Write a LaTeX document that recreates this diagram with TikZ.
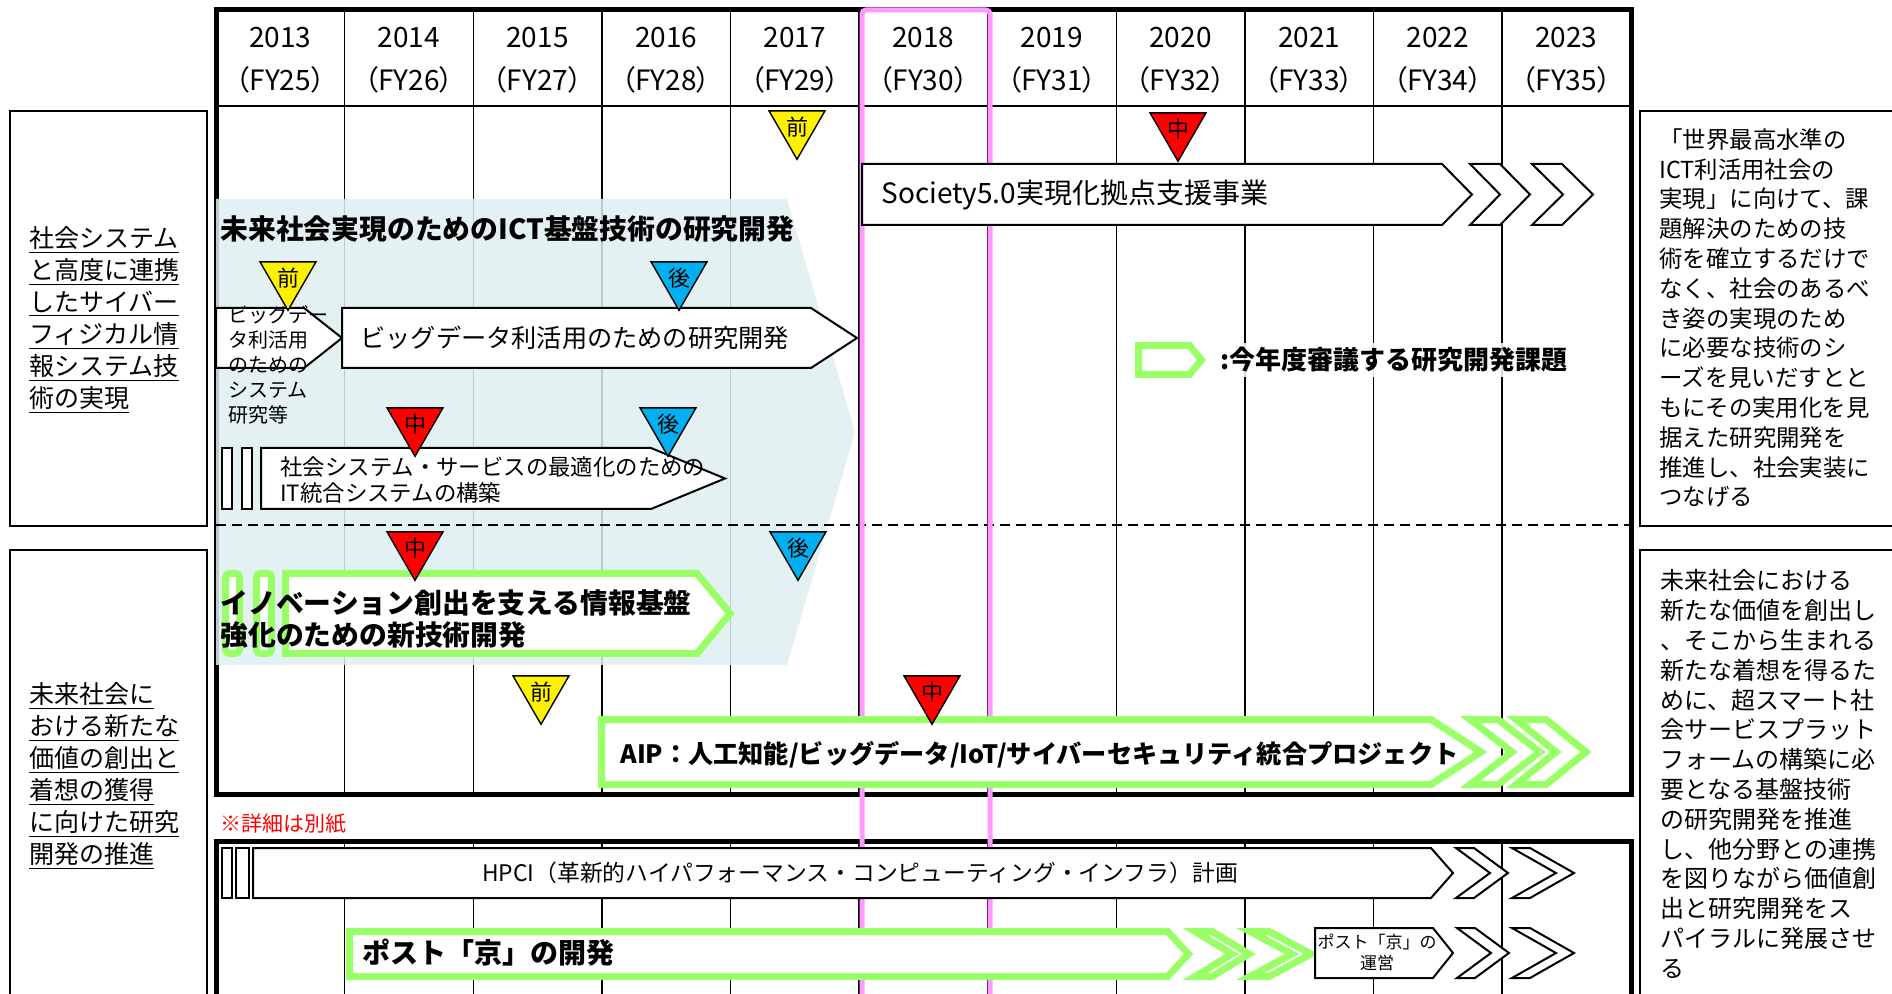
\documentclass[tikz,border=0pt]{standalone}
\usepackage{fontspec}
\setmainfont{Noto Sans CJK JP}
\newfontfamily\propfont{Noto Sans CJK JP}[RawFeature=+palt]
\usetikzlibrary{shapes.geometric}
\definecolor{grn}{RGB}{153,255,102}
\definecolor{pinkline}{RGB}{255,153,255}
\definecolor{ictback}{RGB}{222,238,240}
\definecolor{cyanblue}{RGB}{0,176,240}
% pentagon arrow: [style]{x left}{y top}{x tip}{y bottom}{head depth}
\newcommand{\pentbox}[6][]{\draw[#1] (#2,#3) -- ({#4-#6},#3) -- (#4,{(#3+#5)/2}) -- ({#4-#6},#5) -- (#2,#5) -- cycle;}
% chevron: [style]{x left}{y top}{y bottom}{width}{depth}
\newcommand{\chevshape}[6][]{\draw[#1] (#2,#3) -- ({#2+#5},#3) -- ({#2+#5+#6},{(#3+#4)/2}) -- ({#2+#5},#4) -- (#2,#4) -- ({#2+#6},{(#3+#4)/2}) -- cycle;}
\newcommand{\fs}[2]{\fontsize{#1}{#2}\selectfont}
\begin{document}
\begin{tikzpicture}[x=0.5pt,y=-0.5pt,
    box/.style={draw=black,fill=white,line width=1pt,line join=miter},
    gbox/.style={draw=grn,fill=white,line width=3.5pt,line join=miter},
    gridline/.style={line width=0.7pt},
    frame/.style={line width=2.5pt},
    tri/.style={regular polygon,regular polygon sides=3,regular polygon rotate=180,draw,line width=0.7pt,inner sep=0pt,minimum size=32.3pt,font=\fs{11}{11}},
    zenki/.style={tri,fill=yellow},
    chuki/.style={tri,fill=red},
    kouki/.style={tri,fill=cyanblue},
    txt/.style={inner sep=0pt,anchor=west,align=left}]
    \useasboundingbox (0,0) rectangle (1892,994);
    \clip (0,0) rectangle (1892,994);
    % year grid
    \foreach \i in {1,...,10}{
        \draw[gridline] ({216+128.6*\i},10) -- ({216+128.6*\i},794);
        \draw[gridline] ({216+128.6*\i},841) -- ({216+128.6*\i},1000);
    }
    \draw[line width=1.3pt] (216,106) -- (1631,106);
    \draw[frame] (216,794) -- (216,10) -- (1631,10) -- (1631,794) -- cycle;
    \draw[frame] (216,1000) -- (216,841) -- (1631,841) -- (1631,1000);
    \foreach \yr [count=\i from 0] in {2013,...,2023}{
        \pgfmathtruncatemacro{\fy}{\yr-1988}
        \node[font=\fs{14}{14}] (yr\i) at ({280.3+128.6*\i},38) {\yr};
        \node[font=\propfont\fs{14}{14}] (fy\i) at ({280.3+128.6*\i},80) {（FY\fy）};
    }
    % shaded programme
    \fill[ictback,fill opacity=0.85] (216,199) -- (787,199) -- (855,432) -- (787,665) -- (216,665) -- cycle;
    \draw[line width=1pt,dash pattern=on 5pt off 3pt] (216,525) -- (1631,525);
    \draw[pinkline,line width=2.5pt,rounded corners=2pt] (862,1010) -- (862,10) -- (990,10) -- (990,1010);
    % side boxes
    \draw[line width=1.2pt] (10,111) rectangle (207,526);
    \draw[line width=1.2pt] (10,550) rectangle (207,1010);
    \draw[line width=1.2pt] (1640,111) rectangle (1900,526);
    \draw[line width=1.2pt] (1640,550) rectangle (1900,1010);
    \node[txt,font=\fs{12.5}{16}] (goal1) at (29,320) {\underline{社会システム}\\\underline{と高度に連携}\\\underline{したサイバー}\\\underline{フィジカル情}\\\underline{報システム技}\\\underline{術の実現}};
    \node[txt,font=\fs{12.5}{16}] (goal2) at (29,776) {\underline{未来社会に}\\\underline{おける新たな}\\\underline{価値の創出と}\\\underline{着想の獲得}\\\underline{に向けた研究}\\\underline{開発の推進}};
    \node[txt,font=\fs{11.7}{14.9}] (aim1) at (1659,318) {「世界最高水準の\\ICT利活用社会の\\実現」に向けて、課\\題解決のための技\\術を確立するだけで\\なく、社会のあるべ\\き姿の実現のため\\に必要な技術のシ\\ーズを見いだすとと\\もにその実用化を見\\据えた研究開発を\\推進し、社会実装に\\つなげる};
    \node[txt,font=\fs{12}{14.9}] (aim2) at (1660,774) {未来社会における\\新たな価値を創出し\\、そこから生まれる\\新たな着想を得るた\\めに、超スマート社\\会サービスプラット\\フォームの構築に必\\要となる基盤技術\\の研究開発を推進\\し、他分野との連携\\を図りながら価値創\\出と研究開発をス\\パイラルに発展させ\\る};
    % Society5.0
    \pentbox[box]{862}{164}{1472}{225}{30}
    \chevshape[box]{1470}{164}{225}{30}{30}
    \chevshape[box]{1532}{164}{225}{30}{31}
    \node[txt,font=\fs{14}{14}] (soc) at (881,195) {Society5.0実現化拠点支援事業};
    % ICT programme
    \node[txt,font=\bfseries\fs{13.9}{13.9}] (ict) at (220,229) {未来社会実現のためのICT基盤技術の研究開発};
    \pentbox[box]{216}{308}{342}{368}{38}
    \pentbox[box]{342}{308}{857}{368}{46}
    \node[txt,font=\fs{10}{12.5}] (bdsys) at (228,365) {ビッグデー\\タ利活用\\のための\\システム\\研究等};
    \node[txt,font=\fs{12.6}{12.6}] (bd) at (360,338) {ビッグデータ利活用のための研究開発};
    \draw[box] (222,448) rectangle (232,509);
    \draw[box] (242,448) rectangle (252,509);
    \pentbox[box]{261}{448}{725}{509}{74}
    \node[txt,font=\fs{11.2}{13}] (itsys) at (280,480) {社会システム・サービスの最適化のための\\IT統合システムの構築};
    % innovation
    \draw[gbox,rounded corners=2pt] (225.5,573.5) rectangle (239.5,653.5);
    \draw[gbox,rounded corners=2pt] (256.5,573.5) rectangle (271.5,653.5);
    \pentbox[gbox]{285.5}{573.5}{730}{653.5}{33}
    \node[txt,font=\bfseries\fs{13.9}{16}] (inno) at (220,619) {イノベーション創出を支える情報基盤\\強化のための新技術開発};
    % AIP
    \pentbox[gbox]{601.5}{719.5}{1481}{784.5}{50}
    \chevshape[gbox]{1470}{719.5}{784.5}{28}{42}
    \chevshape[gbox]{1516}{719.5}{784.5}{30}{40}
    \node[txt,font=\bfseries\fs{12.6}{12.6}] (aip) at (620,755) {AIP：人工知能/ビッグデータ/IoT/サイバーセキュリティ統合プロジェクト};
    % legend
    \pentbox[gbox]{1138.5}{345.5}{1201.5}{374.5}{12}
    \node[txt,font=\bfseries\fs{13}{13},fill=white,fill opacity=0.85,text opacity=1,inner sep=2pt] (legend) at (1216,360) {:今年度審議する研究開発課題};
    % HPCI
    \node[txt,text=red,font=\fs{10.5}{10.5}] (note) at (220,824) {※詳細は別紙};
    \draw[box] (222,848) rectangle (232,898);
    \draw[box] (236,848) rectangle (249,898);
    \pentbox[box]{253}{848}{1453}{898}{22}
    \chevshape[box]{1456}{848}{898}{18}{34}
    \chevshape[box]{1512}{848}{898}{18}{44}
    \node[font=\fs{11.4}{11.4},inner sep=0pt] (hpci) at (860,873) {HPCI（革新的ハイパフォーマンス・コンピューティング・インフラ）計画};
    \pentbox[gbox]{349.5}{931.5}{1188.5}{976.5}{21}
    \chevshape[gbox]{1195}{931.5}{976.5}{17}{37}
    \chevshape[gbox]{1250}{931.5}{976.5}{19}{42}
    \node[txt,font=\bfseries\fs{14}{14}] (postk) at (362,953) {ポスト「京」の開発};
    \pentbox[box]{1315}{928}{1453}{978}{20}
    \chevshape[box]{1457}{928}{978}{18}{34}
    \chevshape[box]{1512}{928}{978}{18}{44}
    \node[font=\fs{8.5}{10.5},align=center,inner sep=0pt] (ops) at (1377,952) {ポスト「京」の\\運営};
    % evaluation marks
    \node[zenki] (m1) at (797,127) {前};
    \node[chuki] (m2) at (1178,129) {中};
    \node[zenki] (m3) at (288,278) {前};
    \node[kouki] (m4) at (679,278) {後};
    \node[chuki] (m5) at (415,424) {中};
    \node[kouki] (m6) at (668,424) {後};
    \node[chuki] (m7) at (415,548) {中};
    \node[kouki] (m8) at (798,548) {後};
    \node[zenki] (m9) at (541,692) {前};
    \node[chuki] (m10) at (932,692) {中};
\end{tikzpicture}
\end{document}
